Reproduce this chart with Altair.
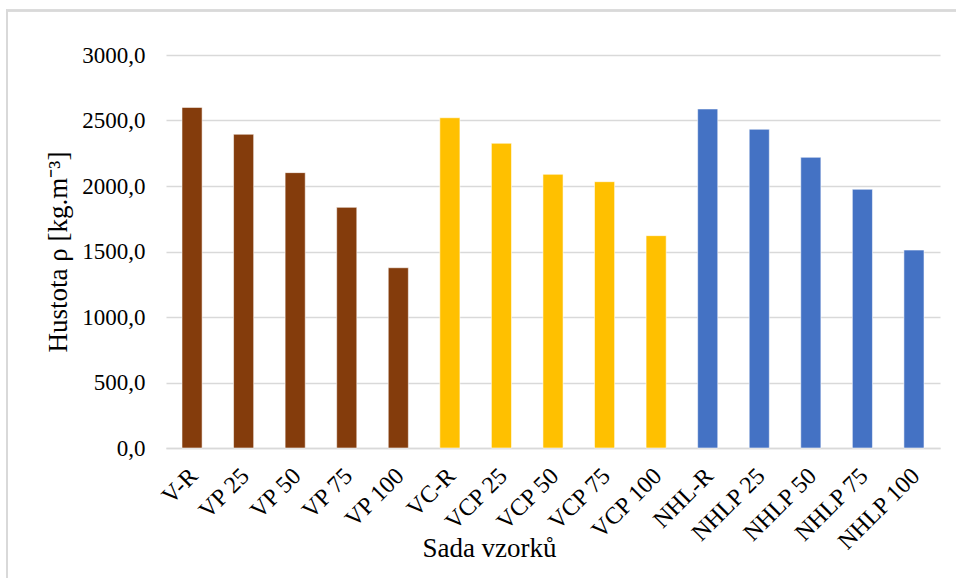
import altair as alt
import pandas as pd

samples = ["V-R", "VP 25", "VP 50", "VP 75", "VP 100",
           "VC-R", "VCP 25", "VCP 50", "VCP 75", "VCP 100",
           "NHL-R", "NHLP 25", "NHLP 50", "NHLP 75", "NHLP 100"]
density = [2600, 2395, 2102, 1837, 1376,
           2521, 2326, 2089, 2033, 1621,
           2588, 2433, 2219, 1975, 1511]
groups = ["V"] * 5 + ["VC"] * 5 + ["NHL"] * 5
group_names = ["V", "VC", "NHL"]
group_colors = ["#843C0C", "#FFC000", "#4472C4"]
y_ticks = [0, 500, 1000, 1500, 2000, 2500, 3000]

df = pd.DataFrame({"sample": samples, "density": density, "group": groups})

FONT = "Liberation Serif"

bars = alt.Chart(df).mark_bar(stroke="#FFFFFF", strokeOpacity=0.55, strokeWidth=1).encode(
    x=alt.X("sample:N", sort=samples,
            scale=alt.Scale(paddingInner=0.61, paddingOuter=0.31),
            axis=alt.Axis(title="Sada vzorků", labelAngle=-45, labelAlign="right",
                          labelBaseline="middle", labelPadding=24, labelOffset=2,
                          ticks=False, domainColor="#D9D9D9", domainWidth=1.5,
                          labelFont=FONT, labelFontSize=24, labelColor="#000000",
                          titleFont=FONT, titleFontSize=27, titleFontWeight="normal",
                          titleColor="#000000", titleX=323, titleY=108,
                          titleBaseline="alphabetic", titleAlign="center",
                          labelOverlap=False)),
    y=alt.Y("density:Q", scale=alt.Scale(domain=[0, 3000]),
            axis=alt.Axis(title="Hustota ρ [kg.m⁻³]", values=y_ticks,
                          labelExpr="replace(format(datum.value, '.1f'), '.', ',')",
                          ticks=False, domain=False, gridColor="#D9D9D9", gridWidth=1.5,
                          labelPadding=21, labelFont=FONT, labelFontSize=23,
                          labelColor="#000000", titleFont=FONT, titleFontSize=27,
                          titleFontWeight="normal", titleColor="#000000",
                          titleX=-100, titleBaseline="alphabetic")),
    color=alt.Color("group:N", scale=alt.Scale(domain=group_names, range=group_colors),
                    legend=None),
)

border = alt.Chart(df).mark_rect(fill=None, stroke="#D9D9D9", strokeWidth=1.5).encode(
    x=alt.value(-159), x2=alt.value(900), y=alt.value(-44.5), y2=alt.value(700)
)

chart = alt.layer(bars, border).properties(
    width=774, height=393,
    autosize=alt.AutoSizeParams(type="none"),
    padding={"left": 166, "top": 55, "right": 16, "bottom": 130},
    background="#FFFFFF",
).configure_view(stroke=None)

chart.save("out.html", embed_options={"renderer": "svg", "actions": False})
